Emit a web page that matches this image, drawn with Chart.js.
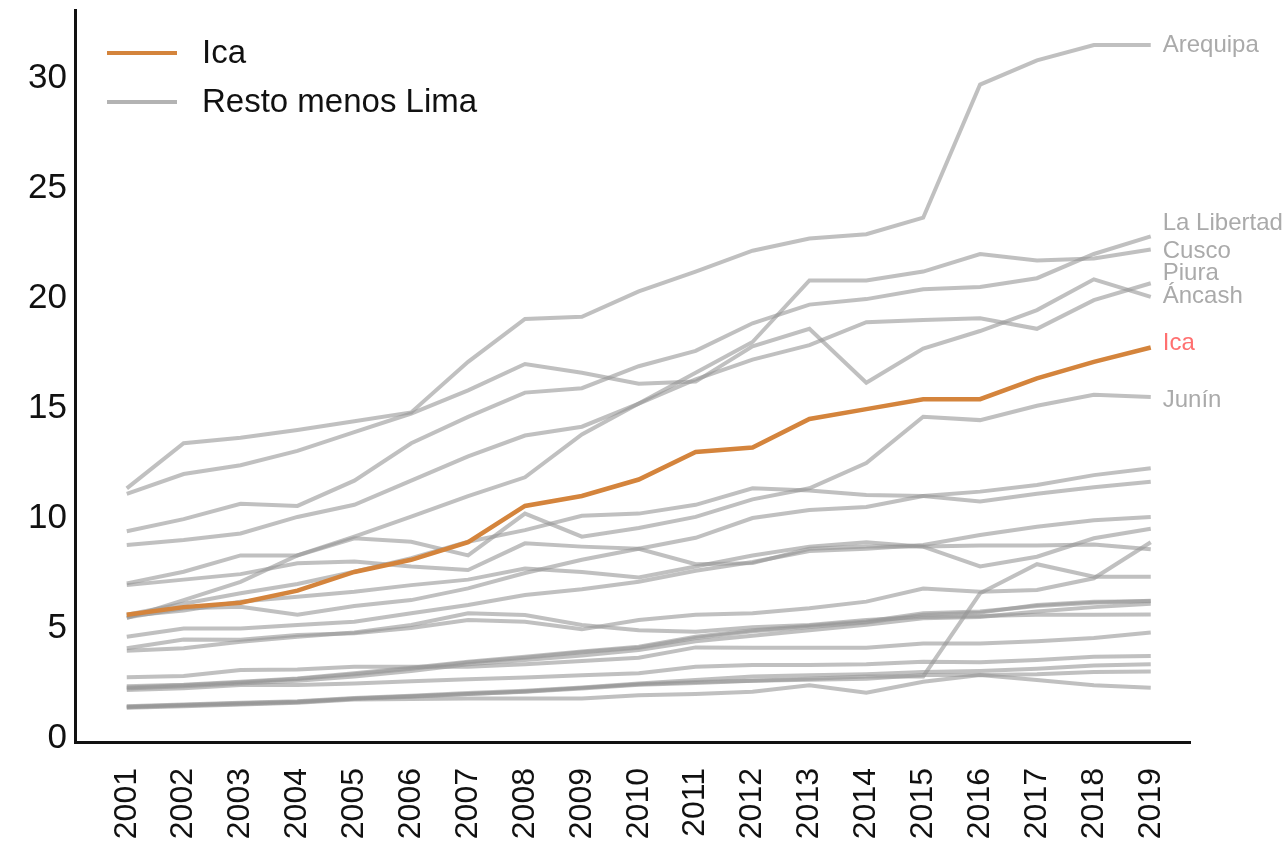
<!DOCTYPE html>
<html lang="es">
<head>
<meta charset="utf-8">
<title>Ica vs resto menos Lima</title>
<script src="https://cdn.jsdelivr.net/npm/chart.js@4.4.1/dist/chart.umd.min.js"></script>
<style>
    html, body { margin: 0; padding: 0; background: #fff; }
    canvas { display: block; }
</style>
</head>
<body>
<canvas id="chart" width="1287" height="844"></canvas>
<script>
// Data
const years = [2001, 2002, 2003, 2004, 2005, 2006, 2007, 2008, 2009, 2010, 2011, 2012, 2013, 2014, 2015, 2016, 2017, 2018, 2019];
const yTicks = [0, 5, 10, 15, 20, 25, 30];

const ica = [5.6, 5.95, 6.15, 6.7, 7.55, 8.1, 8.9, 10.55, 11.0, 11.75, 13.0, 13.2, 14.5, 14.95, 15.4, 15.4, 16.35, 17.1, 17.75];

// labelled regions
const arequipa = [11.35, 13.4, 13.65, 14.0, 14.4, 14.8, 17.1, 19.05, 19.15, 20.3, 21.2, 22.15, 22.7, 22.9, 23.65, 29.7, 30.8, 31.5, 31.5];
const laLibertad = [9.4, 9.95, 10.65, 10.55, 11.7, 13.4, 14.6, 15.7, 15.9, 16.9, 17.6, 18.85, 19.7, 19.95, 20.4, 20.5, 20.9, 22.0, 22.8];
const cusco = [5.45, 6.27, 7.1, 8.3, 9.15, 10.06, 11.0, 11.85, 13.8, 15.2, 16.6, 18.0, 20.8, 20.8, 21.2, 22.0, 21.7, 21.8, 22.2];
const piura = [8.77, 9.0, 9.3, 10.05, 10.6, 11.7, 12.8, 13.75, 14.15, 15.2, 16.3, 17.2, 17.86, 18.9, 19.0, 19.08, 18.6, 19.9, 20.67];
const ancash = [11.1, 12.0, 12.4, 13.05, 13.9, 14.75, 15.8, 17.0, 16.6, 16.1, 16.2, 17.8, 18.6, 16.15, 17.7, 18.5, 19.45, 20.85, 20.05];
const junin = [7.03, 7.56, 8.3, 8.3, 9.08, 8.92, 8.3, 10.2, 9.15, 9.55, 10.05, 10.85, 11.35, 12.5, 14.6, 14.45, 15.1, 15.6, 15.5];

// unlabelled regions (rest minus Lima)
const otro1 = [5.48, 5.9, 5.97, 5.6, 6.0, 6.27, 6.8, 7.5, 8.1, 8.6, 9.1, 10.0, 10.36, 10.5, 11.0, 11.2, 11.5, 11.95, 12.26];
const otro2 = [5.6, 6.1, 6.58, 7.0, 7.56, 8.17, 8.92, 9.45, 10.1, 10.2, 10.6, 11.35, 11.25, 11.05, 11.0, 10.75, 11.1, 11.4, 11.65];
const otro3 = [4.6, 4.98, 4.98, 5.14, 5.29, 5.67, 6.05, 6.5, 6.76, 7.1, 7.6, 8.0, 8.5, 8.6, 8.77, 9.23, 9.6, 9.9, 10.05];
const otro4 = [5.55, 5.8, 6.2, 6.42, 6.65, 6.95, 7.2, 7.7, 7.55, 7.3, 7.8, 8.3, 8.7, 8.9, 8.7, 7.8, 8.24, 9.08, 9.51];
const otro5 = [4.08, 4.48, 4.47, 4.68, 4.76, 5.0, 5.36, 5.29, 4.94, 5.36, 5.6, 5.67, 5.9, 6.2, 6.8, 6.65, 6.73, 7.26, 8.9];
const otro6 = [6.95, 7.2, 7.45, 7.94, 8.02, 7.8, 7.64, 8.85, 8.7, 8.6, 7.9, 7.95, 8.6, 8.7, 8.7, 8.75, 8.75, 8.8, 8.58];
const otro7 = [1.4, 1.48, 1.55, 1.63, 1.78, 1.88, 2.0, 2.1, 2.25, 2.42, 2.5, 2.6, 2.7, 2.8, 2.8, 6.58, 7.9, 7.33, 7.33];
const otro8 = [2.35, 2.42, 2.56, 2.71, 2.94, 3.2, 3.47, 3.7, 3.93, 4.15, 4.6, 4.9, 5.1, 5.3, 5.67, 5.75, 6.0, 6.15, 6.24];
const otro9 = [2.3, 2.4, 2.53, 2.68, 2.9, 3.15, 3.43, 3.65, 3.9, 4.1, 4.55, 4.85, 5.05, 5.25, 5.6, 5.7, 6.05, 6.2, 6.22];
const otro10 = [2.25, 2.35, 2.48, 2.6, 2.8, 3.05, 3.35, 3.55, 3.75, 4.0, 4.4, 4.65, 4.9, 5.15, 5.44, 5.5, 5.75, 5.95, 6.1];
const otro11 = [3.97, 4.08, 4.38, 4.6, 4.8, 5.14, 5.67, 5.59, 5.14, 4.9, 4.83, 5.03, 5.14, 5.36, 5.5, 5.55, 5.6, 5.6, 5.62];
const otro12 = [2.76, 2.82, 3.09, 3.12, 3.24, 3.24, 3.24, 3.35, 3.5, 3.65, 4.12, 4.1, 4.1, 4.1, 4.3, 4.3, 4.4, 4.55, 4.8];
const otro13 = [2.18, 2.26, 2.41, 2.41, 2.48, 2.58, 2.67, 2.75, 2.85, 2.94, 3.24, 3.32, 3.32, 3.35, 3.47, 3.45, 3.55, 3.7, 3.73];
const otro14 = [1.45, 1.52, 1.6, 1.67, 1.82, 1.92, 2.05, 2.15, 2.3, 2.48, 2.64, 2.8, 2.85, 2.9, 3.0, 3.05, 3.15, 3.3, 3.35];
const otro15 = [1.42, 1.5, 1.58, 1.65, 1.8, 1.9, 2.0, 2.12, 2.28, 2.45, 2.55, 2.6, 2.65, 2.7, 2.86, 2.86, 2.9, 3.0, 3.02];
const otro16 = [1.38, 1.45, 1.52, 1.6, 1.75, 1.78, 1.8, 1.8, 1.8, 1.95, 2.0, 2.1, 2.4, 2.06, 2.56, 2.86, 2.64, 2.4, 2.29];

// Styles
const FONT = "'Liberation Sans', Arial, Helvetica, sans-serif";
const ICA_COLOR = '#d4843c';
const GRAY = 'rgba(150, 150, 150, 0.6)';

const resto = [
    ['Arequipa', arequipa], ['La Libertad', laLibertad], ['Cusco', cusco],
    ['Piura', piura], ['Áncash', ancash], ['Junín', junin],
    ['', otro1], ['', otro2], ['', otro3], ['', otro4], ['', otro5], ['', otro6],
    ['', otro7], ['', otro8], ['', otro9], ['', otro10], ['', otro11], ['', otro12],
    ['', otro13], ['', otro14], ['', otro15], ['', otro16]
];

function toPoints(values) {
    return values.map((v, i) => ({ x: years[i], y: v }));
}

const datasets = [{
    label: 'Ica',
    data: toPoints(ica),
    borderColor: ICA_COLOR,
    borderWidth: 4.5
}].concat(resto.map(([name, values]) => ({
    label: name,
    data: toPoints(values),
    borderColor: GRAY,
    borderWidth: 4
})));

// end-of-line labels, nudged in px so they don't overlap
const endLabels = [
    { text: 'Arequipa', ds: 1, dy: 0, color: '#aaaaaa' },
    { text: 'La Libertad', ds: 2, dy: -13, color: '#aaaaaa' },
    { text: 'Cusco', ds: 3, dy: 2, color: '#aaaaaa' },
    { text: 'Piura', ds: 4, dy: -10, color: '#aaaaaa' },
    { text: 'Áncash', ds: 5, dy: -1, color: '#aaaaaa' },
    { text: 'Ica', ds: 0, dy: -4, color: '#ff7070' },
    { text: 'Junín', ds: 6, dy: 3, color: '#aaaaaa' }
];

const endLabelPlugin = {
    id: 'endLabels',
    afterDatasetsDraw(chart) {
        const ctx = chart.ctx;
        const xs = chart.scales.x, ys = chart.scales.y;
        ctx.save();
        ctx.font = '24px ' + FONT;
        ctx.textAlign = 'left';
        ctx.textBaseline = 'middle';
        endLabels.forEach(l => {
            const pts = chart.data.datasets[l.ds].data;
            const last = pts[pts.length - 1];
            ctx.fillStyle = l.color;
            ctx.fillText(l.text, xs.getPixelForValue(last.x) + 12, ys.getPixelForValue(last.y) + l.dy);
        });
        ctx.restore();
    }
};

const legendPlugin = {
    id: 'cornerLegend',
    afterDraw(chart) {
        const ctx = chart.ctx;
        const left = chart.chartArea.left;
        const items = [
            { text: 'Ica', color: ICA_COLOR, y: 53 },
            { text: 'Resto menos Lima', color: '#b3b3b3', y: 102 }
        ];
        ctx.save();
        ctx.font = '33px ' + FONT;
        ctx.textBaseline = 'middle';
        items.forEach(it => {
            ctx.strokeStyle = it.color;
            ctx.lineWidth = 4;
            ctx.beginPath();
            ctx.moveTo(left + 32, it.y);
            ctx.lineTo(left + 102, it.y);
            ctx.stroke();
            ctx.fillStyle = '#111';
            ctx.fillText(it.text, left + 127, it.y + 1);
        });
        ctx.restore();
    }
};

new Chart(document.getElementById('chart'), {
    type: 'line',
    data: { datasets: datasets },
    options: {
        responsive: false,
        animation: false,
        devicePixelRatio: 1,
        layout: { padding: { top: 10, right: 97, left: 0, bottom: 0 } },
        elements: {
            point: { radius: 0, hoverRadius: 0 },
            line: { tension: 0, fill: false }
        },
        plugins: {
            legend: { display: false },
            tooltip: { enabled: false }
        },
        scales: {
            x: {
                type: 'linear',
                min: 2000.09,
                max: 2019.69,
                afterBuildTicks: axis => { axis.ticks = years.map(v => ({ value: v })); },
                afterFit: axis => {
                    axis.height = 102;
                    axis.paddingLeft = 0;
                    axis.paddingRight = 0;
                },
                grid: { display: false, drawTicks: false },
                border: { color: '#111', width: 3 },
                ticks: {
                    autoSkip: false,
                    minRotation: 90,
                    maxRotation: 90,
                    padding: 26,
                    color: '#111',
                    font: { size: 32, family: FONT },
                    callback: v => String(v)
                }
            },
            y: {
                min: -0.18,
                max: 33.09,
                afterBuildTicks: axis => { axis.ticks = yTicks.map(v => ({ value: v })); },
                afterFit: axis => {
                    axis.width = 75;
                    axis.paddingTop = 0;
                    axis.paddingBottom = 0;
                },
                grid: { display: false, drawTicks: false },
                border: { color: '#111', width: 3 },
                ticks: {
                    padding: 8,
                    color: '#111',
                    font: { size: 35, family: FONT }
                }
            }
        }
    },
    plugins: [endLabelPlugin, legendPlugin]
});
</script>
</body>
</html>
